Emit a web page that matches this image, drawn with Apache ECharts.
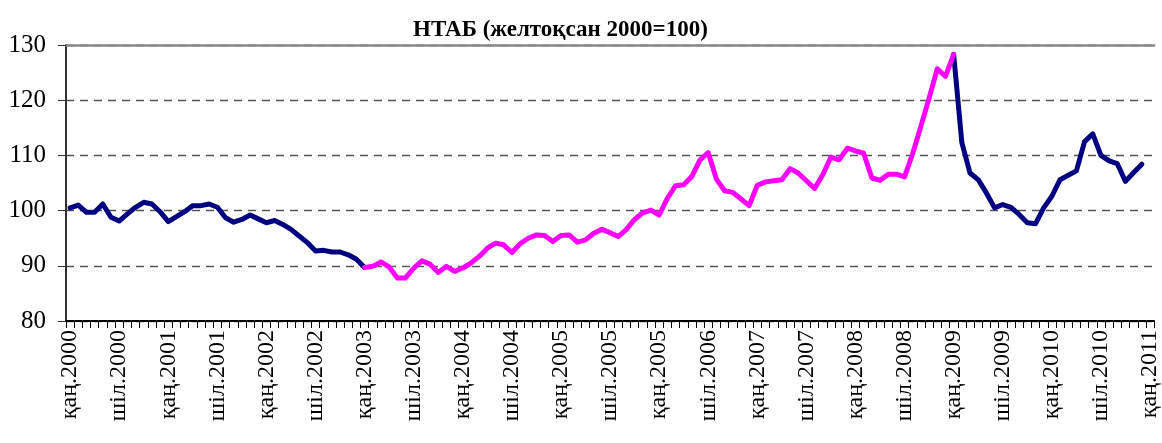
<!DOCTYPE html>
<html>
<head>
<meta charset="utf-8">
<script src="https://cdn.jsdelivr.net/npm/echarts@6/dist/echarts.min.js"></script>
<style>
  html, body { margin: 0; padding: 0; background: #fff; }
  #chart { width: 1162px; height: 443px; }
</style>
</head>
<body>
<div id="chart"></div>
<script>
// monthly index, Jan 2000 .. Dec 2010 (Dec 2000 = 100)
var indexValues = [
  100.5, 101.0, 99.7, 99.7, 101.2, 98.8, 98.1, 99.4, 100.6, 101.5, 101.2, 99.8,
  98.0, 98.9, 99.8, 100.9, 100.9, 101.2, 100.6, 98.7, 97.9, 98.4, 99.2, 98.5,
  97.8, 98.2, 97.5, 96.6, 95.4, 94.2, 92.7, 92.8, 92.5, 92.5, 92.0, 91.2,
  89.7, 89.9, 90.7, 89.8, 87.8, 87.8, 89.6, 90.9, 90.3, 88.8, 89.9, 89.0,
  89.6, 90.5, 91.7, 93.2, 94.1, 93.8, 92.4, 94.0, 95.0, 95.6, 95.5, 94.4,
  95.5, 95.6, 94.3, 94.7, 95.9, 96.6, 96.0, 95.3, 96.6, 98.4, 99.6, 100.1,
  99.2, 102.2, 104.5, 104.7, 106.2, 109.2, 110.5, 105.7, 103.6, 103.3, 102.1, 100.9,
  104.6, 105.2, 105.4, 105.6, 107.6, 106.8, 105.4, 104.0, 106.5, 109.7, 109.2, 111.3,
  110.8, 110.4, 105.9, 105.5, 106.6, 106.6, 106.1, 110.4, 115.3, 120.4, 125.7, 124.3,
  128.3, 112.3, 106.8, 105.6, 103.2, 100.5, 101.1, 100.6, 99.3, 97.8, 97.6, 100.5,
  102.6, 105.6, 106.4, 107.2, 112.5, 113.9, 110.0, 109.0, 108.5, 105.3, 106.9, 108.4
];

// labels printed every 6 months (the chart itself repeats қаң.2005)
var tickLabels = [
  'қаң.2000', 'шіл.2000', 'қаң.2001', 'шіл.2001', 'қаң.2002', 'шіл.2002',
  'қаң.2003', 'шіл.2003', 'қаң.2004', 'шіл.2004', 'қаң.2005', 'шіл.2005',
  'қаң.2005', 'шіл.2006', 'қаң.2007', 'шіл.2007', 'қаң.2008', 'шіл.2008',
  'қаң.2009', 'шіл.2009', 'қаң.2010', 'шіл.2010', 'қаң.2011'
];

var monthNames = ['қаң', 'ақп', 'нау', 'сәу', 'мам', 'мау', 'шіл', 'там', 'қыр', 'қаз', 'қар', 'жел'];

// stretch highlighted in magenta (Jan 2003 .. Jan 2009)
var highlightFrom = 36;
var highlightTo = 108;

var yTicks = [80, 90, 100, 110, 120, 130];

(function () {
  var serif = "'Liberation Serif', 'Times New Roman', serif";

  var categories = [];
  for (var i = 0; i < 133; i++) {
    categories.push(i % 6 === 0 ? tickLabels[i / 6] : monthNames[i % 12] + '.' + (2000 + Math.floor(i / 12)));
  }

  var navyData = indexValues.map(function (v, i) {
    return (i <= highlightFrom || i >= highlightTo) ? v : null;
  });
  var magentaData = indexValues.map(function (v, i) {
    return (i >= highlightFrom && i <= highlightTo) ? v : null;
  });

  function lineSeries(name, color, data, z) {
    return {
      name: name,
      type: 'line',
      data: data,
      z: z,
      symbol: 'none',
      connectNulls: false,
      animation: false,
      lineStyle: { color: color, width: 5, cap: 'round', join: 'round' }
    };
  }

  var chart = echarts.init(document.getElementById('chart'), null, { renderer: 'canvas' });
  chart.setOption({
    backgroundColor: '#ffffff',
    animation: false,
    title: {
      text: 'НТАБ (желтоқсан 2000=100)',
      left: 408,
      top: 14,
      textStyle: { fontFamily: serif, fontWeight: 'bold', fontSize: 23, color: '#000' }
    },
    grid: { left: 66, right: 2, top: 45, bottom: 122, containLabel: false },
    xAxis: [{
      type: 'category',
      data: categories,
      boundaryGap: true,
      axisLine: { lineStyle: { color: '#000', width: 2 } },
      axisTick: { show: true, interval: 0, length: 7, lineStyle: { color: '#000', width: 1 } },
      axisLabel: {
        interval: 5,
        rotate: 90,
        margin: 9,
        fontFamily: serif,
        fontSize: 24,
        color: '#000'
      },
      splitLine: { show: false }
    }, {
      type: 'category',
      position: 'top',
      data: categories,
      axisLine: { lineStyle: { color: '#888', width: 2.5 } },
      axisTick: { show: false },
      axisLabel: { show: false }
    }],
    yAxis: {
      type: 'value',
      min: yTicks[0],
      max: yTicks[yTicks.length - 1],
      interval: 10,
      axisLine: { show: true, lineStyle: { color: '#333', width: 2 } },
      axisTick: { show: true, length: 8, lineStyle: { color: '#333', width: 1 } },
      axisLabel: { margin: 20, fontFamily: serif, fontSize: 25, color: '#000' },
      splitLine: { show: true, lineStyle: { color: '#555', width: 1.3, type: [8, 6] } }
    },
    series: [
      lineSeries('navy', '#000080', navyData, 2),
      lineSeries('magenta', '#ff00ff', magentaData, 3)
    ]
  });

  window.addEventListener('resize', function () { chart.resize(); });
})();
</script>
</body>
</html>
